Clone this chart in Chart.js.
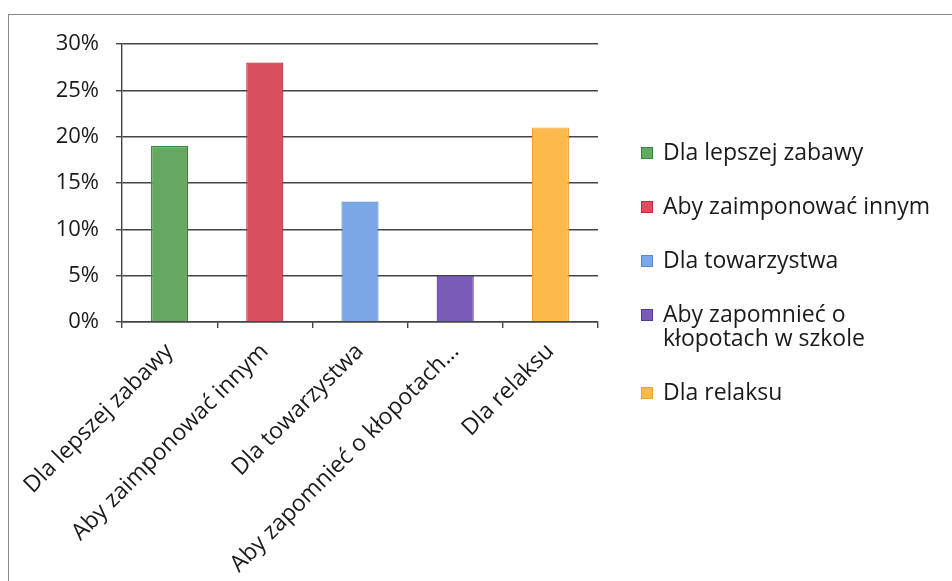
<!DOCTYPE html>
<html>
<head>
<meta charset="utf-8">
<script src="https://cdn.jsdelivr.net/npm/chart.js@4/dist/chart.umd.min.js"></script>
<style>
  html, body { margin: 0; padding: 0; background: #fff; }
  #wrap { position: relative; width: 952px; height: 581px; overflow: hidden; }
  #frame { position: absolute; left: 8px; top: 14px; width: 1000px; height: 700px;
           border-left: 1.5px solid #8a8a8a; border-top: 1.5px solid #8a8a8a; }
  canvas { position: absolute; left: 0; top: 0; }
</style>
</head>
<body>
<div id="wrap">
  <div id="frame"></div>
  <canvas id="myChart" width="952" height="581"></canvas>
</div>
<script>
var categories = ["Dla lepszej zabawy", "Aby zaimponować innym", "Dla towarzystwa", "Aby zapomnieć o kłopotach w szkole", "Dla relaksu"]
var tickLabels = ["Dla lepszej zabawy", "Aby zaimponować innym", "Dla towarzystwa", "Aby zapomnieć o kłopotach…", "Dla relaksu"]
var legendLines = [["Dla lepszej zabawy"], ["Aby zaimponować innym"], ["Dla towarzystwa"], ["Aby zapomnieć o", "kłopotach w szkole"], ["Dla relaksu"]]
var percentValues = [19, 28, 13, 5, 21]
var yTicks = [0, 5, 10, 15, 20, 25, 30]
var barColor = ["#65a861", "#d94f5f", "#7aa7e6", "#7a5cb8", "#fcb94c"]
var barBorder = ["#2f8a3a", "#c0283c", "#5a88cc", "#4f3a96", "#eaa532"]

var font = "'Open Sans'"

// legend drawn by hand so the long item can wrap onto two lines
var sideLegend = {
  id: "sideLegend",
  afterDraw: function(chart) {
    var ctx = chart.ctx
    var y = 153
    ctx.save()
    ctx.font = "23px " + font
    ctx.textBaseline = "middle"
    for (var i = 0; i < legendLines.length; i++) {
      ctx.fillStyle = barColor[i]
      ctx.fillRect(641, y - 6, 12, 12)
      ctx.strokeStyle = barBorder[i]
      ctx.lineWidth = 1
      ctx.strokeRect(641.5, y - 5.5, 11, 11)
      ctx.fillStyle = "#1a1a1a"
      for (var j = 0; j < legendLines[i].length; j++) {
        ctx.fillText(legendLines[i][j], 663, y + j * 24)
      }
      y += 54 + (legendLines[i].length - 1) * 24
    }
    ctx.restore()
  }
}

new Chart("myChart", {
  type: "bar",
  data: {
    labels: tickLabels,
    datasets: [{
      label: "Odpowiedzi",
      data: percentValues,
      backgroundColor: barColor,
      borderColor: barBorder,
      borderWidth: 1.2,
      categoryPercentage: 1,
      barPercentage: 0.39
    }]
  },
  options: {
    responsive: false,
    animation: false,
    layout: { padding: { left: 0, top: 44, right: 354, bottom: 0 } },
    plugins: {
      legend: { display: false },
      tooltip: { enabled: false }
    },
    scales: {
      x: {
        afterFit: function(s) { s.height = 259 },
        grid: { offset: true, drawOnChartArea: false, drawTicks: true, tickLength: 6, color: "#444", lineWidth: 1.4 },
        border: { color: "#444", width: 1.4 },
        ticks: {
          maxRotation: 45, minRotation: 45, padding: 10, autoSkip: false,
          color: "#1a1a1a", font: { family: font, size: 23 }
        }
      },
      y: {
        min: 0, max: 30,
        afterFit: function(s) { s.width = 122 },
        afterBuildTicks: function(s) { s.ticks = yTicks.map(function(v) { return { value: v } }) },
        grid: { color: "#444", lineWidth: 1.4, tickLength: 6 },
        border: { color: "#444", width: 1.4 },
        ticks: {
          padding: 17, color: "#1a1a1a", font: { family: font, size: 22 },
          callback: function(v) { return v + "%" }
        }
      }
    }
  },
  plugins: [sideLegend]
});
</script>
</body>
</html>
